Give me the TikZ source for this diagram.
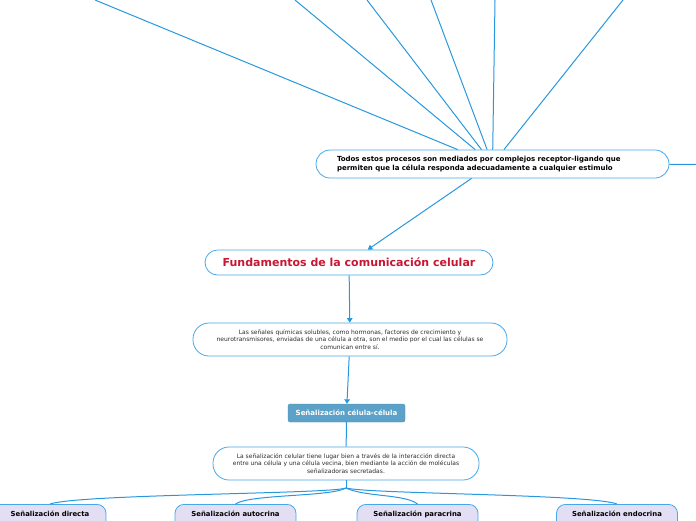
\documentclass[tikz,border=0pt]{standalone}
\usepackage{fontspec}
\setmainfont{DejaVu Sans}
\usetikzlibrary{arrows.meta}
\definecolor{lineblue}{RGB}{40,152,222}
\definecolor{borderblue}{RGB}{70,168,232}
\definecolor{titlered}{RGB}{200,22,52}
\definecolor{steel}{RGB}{92,162,200}
\definecolor{lav}{RGB}{226,222,243}
\definecolor{txtgray}{RGB}{45,45,45}
\tikzset{
  conn/.style={draw=lineblue, line width=1.0pt},
  arr/.style={conn, -{Triangle[width=5.5pt,length=4.5pt]}},
  pill/.style={draw=borderblue, line width=0.8pt, fill=white, inner sep=0pt},
  smalltxt/.style={font=\fontsize{6.0}{7.6}\selectfont, text=txtgray, align=center},
  leaf/.style={draw=borderblue, line width=0.8pt, fill=lav, rounded corners=9pt,
    minimum width=121pt, minimum height=34pt, anchor=north, inner sep=0pt},
  leaftxt/.style={font=\bfseries\fontsize{6.9}{8}\selectfont, anchor=base}
}
\begin{document}
\begin{tikzpicture}[x=1pt,y=-1pt]
\useasboundingbox (0,0) rectangle (696,520);
\clip (0,0) rectangle (696,520);
% top box
\node[pill, rounded corners=14pt, minimum width=353pt, minimum height=28pt,
  text width=311pt, inner xsep=21pt, align=left,
  font=\bfseries\fontsize{7.0}{9}\selectfont] (top) at (492.5,164)
  {Todos estos procesos son mediados por complejos receptor-ligando que\\
   permiten que la célula responda adecuadamente a cualquier estimulo};
% fan coordinates
\coordinate (f1) at (95,0);
\coordinate (f2) at (295,0);
\coordinate (f3) at (367,0);
\coordinate (f4) at (431,0);
\coordinate (f5) at (495,0);
\coordinate (f6) at (623,0);
\coordinate (fr) at (700,164.5);
\foreach \c in {f1,f2,f3,f4,f5,f6} \draw[conn] (\c) -- (top);
\draw[conn] (top) -- (fr);
% title
\node[pill, rounded corners=12.5pt, minimum width=288pt, minimum height=25pt,
  font=\bfseries\fontsize{11.0}{12}\selectfont, text=titlered] (fund) at (349,262.5)
  {Fundamentos de la comunicación celular};
% box 3
\node[pill, rounded corners=16pt, minimum width=314pt, minimum height=33pt, smalltxt] (b3) at (350,339.5)
  {Las señales químicas solubles, como hormonas, factores de crecimiento y\\
   neurotransmisores, enviadas de una célula a otra, son el medio por el cual las células se\\
   comunican entre sí.};
% celula box
\node[draw=steel!85!black, line width=0.3pt, fill=steel, rounded corners=2pt, minimum width=117pt, minimum height=18pt,
  inner sep=0pt, text=white, font=\bfseries\fontsize{7.0}{8}\selectfont] (cc) at (346.5,413)
  {Señalización célula-célula};
% box 5
\node[pill, rounded corners=16pt, minimum width=266pt, minimum height=33pt, smalltxt] (b5) at (346,463.5)
  {La señalización celular tiene lugar bien a través de la interacción directa\\
   entre una célula y una célula vecina, bien mediante la acción de moléculas\\
   señalizadoras secretadas.};
% arrows
\draw[arr] (top) -- (fund);
\draw[arr] (fund) -- (b3);
\draw[arr] (b3) -- (cc);
\draw[conn] (cc) -- (b5);
% leaves
\node[leaf] (l1) at (45.5,504) {};
\node[leaf] (l2) at (235.5,504) {};
\node[leaf] (l3) at (417.5,504) {};
\node[leaf] (l4) at (617,504) {};
\node[leaftxt] (t1) at (50,516.5) {Señalización directa};
\node[leaftxt] (t2) at (235.5,516.5) {Señalización autocrina};
\node[leaftxt] (t3) at (417.5,516.5) {Señalización paracrina};
\node[leaftxt] (t4) at (617,516.5) {Señalización endocrina};
\coordinate (hub) at (346,488);
\draw[conn] (b5.south) -- (hub);
\draw[conn] (hub) .. controls (330,494) and (80,494) .. (50,504);
\draw[conn] (hub) .. controls (330,497) and (250,494) .. (l2.north);
\draw[conn] (hub) .. controls (365,497) and (405,494) .. (l3.north);
\draw[conn] (hub) .. controls (370,494) and (590,494) .. (l4.north);
\end{tikzpicture}
\end{document}
